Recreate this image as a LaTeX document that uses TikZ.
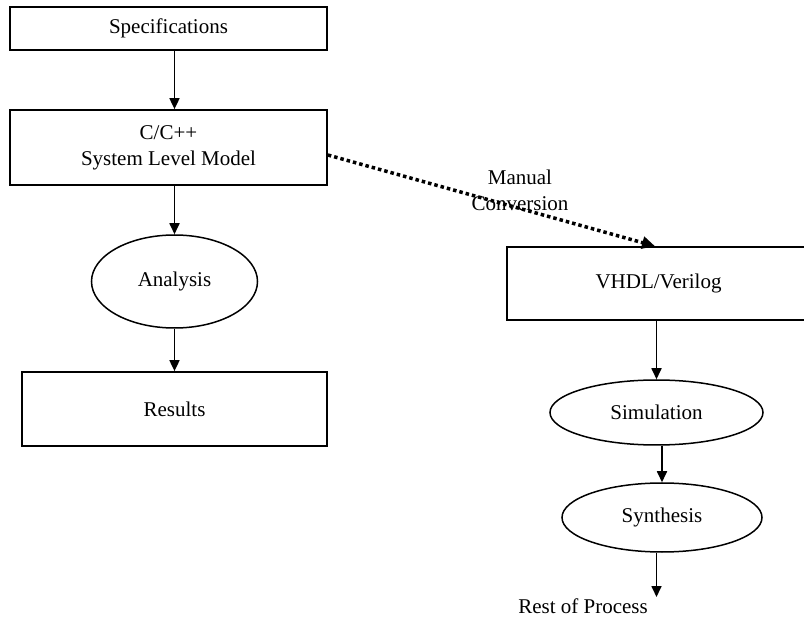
\documentclass[tikz,border=0pt]{standalone}
\usepackage{fontspec}
\setmainfont{Liberation Serif}
\usetikzlibrary{shapes.geometric,arrows.meta}
\begin{document}
\begin{tikzpicture}[x=1pt,y=-1pt,
  every node/.style={font=\fontsize{21}{26}\selectfont, inner sep=0pt},
  boxnode/.style={draw, line width=1.7pt, rectangle, align=center},
  ellnode/.style={draw, line width=1.5pt, ellipse},
  arr/.style={line width=1.7pt, -{Triangle[length=11pt,width=10pt]}},
  dotarr/.style={line width=3.5pt, dash pattern=on 3.5pt off 3pt, -{Triangle[length=13pt,width=12pt]}}
]
\useasboundingbox (0,0) rectangle (804,620);
\fill[white] (0,0) rectangle (804,620);

\node[boxnode, minimum width=317pt, minimum height=43pt] (spec) at (168.5,28.5) {Specifications};
\node[boxnode, minimum width=317pt, minimum height=75pt] (cmodel) at (168.5,147.5) {C/C++\\System Level Model};
\node[ellnode, minimum width=166pt, minimum height=93pt] (ana) at (174.5,281.5) {Analysis};
\node[boxnode, minimum width=305pt, minimum height=74pt] (res) at (174.5,409) {Results};

\node[boxnode, minimum width=303pt, minimum height=73pt] (vhdl) at (658.5,283.5) {VHDL/Verilog};
\node[ellnode, minimum width=213pt, minimum height=65pt] (sim) at (656.5,412.5) {Simulation};
\node[ellnode, minimum width=200pt, minimum height=69pt] (syn) at (662,517.5) {Synthesis};
\node (rest) at (583,606) {Rest of Process};
\coordinate (restend) at (656.5,597);

\draw[arr] (spec.south -| ana) -- (cmodel.north -| ana);
\draw[arr] (cmodel.south -| ana) -- (ana.north);
\draw[arr] (ana.south) -- (res.north -| ana);

\draw[arr] (vhdl.south -| sim) -- (sim.north);
\draw[arr] ([xshift=5.5pt]sim.south) -- (syn.north);
\draw[arr] (syn.south -| restend) -- (restend);

\draw[dotarr] ([yshift=-7.5pt]cmodel.east) -- ([xshift=-3.5pt]vhdl.north);
\node[align=center] (lbl) at (520,190) {Manual\\Conversion};
\end{tikzpicture}
\end{document}
